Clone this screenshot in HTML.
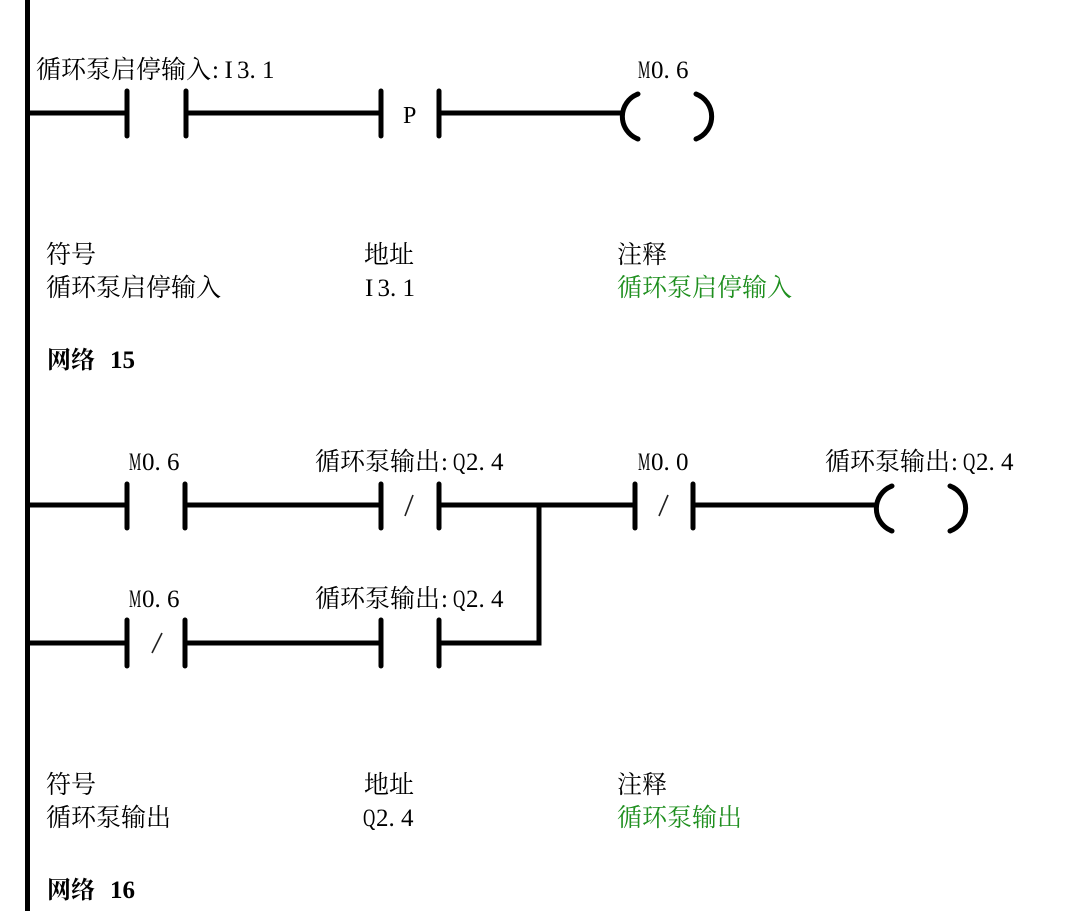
<!DOCTYPE html>
<html>
<head>
<meta charset="utf-8">
<style>
html,body{margin:0;padding:0;background:#fff;}
svg{display:block;}
.cj{font-family:"Noto Serif CJK SC",serif;font-size:25px;fill:#000;}
.la{font-family:"Liberation Serif",serif;font-size:25px;fill:#000;}
.gr{fill:#1f8f1f;}
.nb{font-family:"Noto Serif CJK SC",serif;font-size:24px;font-weight:700;fill:#000;}
.nd{font-family:"Liberation Serif",serif;font-size:25px;font-weight:700;fill:#000;}
</style>
</head>
<body>
<svg width="1080" height="911" viewBox="0 0 1080 911" xmlns="http://www.w3.org/2000/svg">
<!-- left bus -->
<rect x="25" y="0" width="5" height="911" fill="#000"/>

<g stroke="#000" stroke-width="5" fill="none" stroke-linecap="round">
  <!-- Rung 1 (y=113) -->
  <line x1="28" y1="113" x2="127" y2="113" stroke-linecap="butt"/>
  <line x1="127" y1="91" x2="127" y2="136"/>
  <line x1="186" y1="91" x2="186" y2="136"/>
  <line x1="186" y1="113" x2="381" y2="113" stroke-linecap="butt"/>
  <line x1="381" y1="91" x2="381" y2="136"/>
  <line x1="439" y1="91" x2="439" y2="136"/>
  <line x1="439" y1="113" x2="622" y2="113" stroke-linecap="butt"/>
  <path d="M638,94 A24,24 0 0 0 638,139"/>
  <path d="M696,94 A24,24 0 0 1 696,139"/>

  <!-- Network 15 top rung (y=505) -->
  <line x1="28" y1="505" x2="127" y2="505" stroke-linecap="butt"/>
  <line x1="127" y1="484" x2="127" y2="528"/>
  <line x1="185" y1="484" x2="185" y2="528"/>
  <line x1="185" y1="505" x2="381" y2="505" stroke-linecap="butt"/>
  <line x1="381" y1="484" x2="381" y2="528"/>
  <line x1="439" y1="484" x2="439" y2="528"/>
  <line x1="439" y1="505" x2="635" y2="505" stroke-linecap="butt"/>
  <line x1="635" y1="484" x2="635" y2="528"/>
  <line x1="693" y1="484" x2="693" y2="528"/>
  <line x1="693" y1="505" x2="876" y2="505" stroke-linecap="butt"/>
  <path d="M892,486 A24,24 0 0 0 892,531"/>
  <path d="M950,486 A24,24 0 0 1 950,531"/>

  <!-- Network 15 bottom rung (y=643) -->
  <line x1="28" y1="643" x2="127" y2="643" stroke-linecap="butt"/>
  <line x1="127" y1="620" x2="127" y2="666"/>
  <line x1="185" y1="620" x2="185" y2="666"/>
  <line x1="185" y1="643" x2="381" y2="643" stroke-linecap="butt"/>
  <line x1="381" y1="620" x2="381" y2="666"/>
  <line x1="439" y1="620" x2="439" y2="666"/>
  <polyline points="439,643 539,643 539,505" stroke-linecap="butt" stroke-linejoin="miter"/>
</g>

<!-- slashes for NC contacts -->
<g stroke="#222" stroke-width="1.6" fill="none">
  <line x1="413" y1="495" x2="405" y2="516"/>
  <line x1="668" y1="495" x2="659" y2="516"/>
  <line x1="162" y1="633" x2="152" y2="653"/>
</g>

<!-- P label -->
<text x="403" y="123" style="font-family:'Liberation Serif',serif;font-size:24px;fill:#000;">P</text>

<!-- Rung 1 labels -->
<text class="cj" x="36" y="78">循环泵启停输入</text>
<text class="la" y="78"><tspan x="212">:</tspan><tspan x="224.5">I</tspan><tspan x="237">3</tspan><tspan x="249.5">.</tspan><tspan x="262">1</tspan></text>
<text class="la" transform="translate(638,78) scale(0.55,1)">M</text>
<text class="la" y="78"><tspan x="651">0</tspan><tspan x="663.5">.</tspan><tspan x="676">6</tspan></text>

<!-- Table 1 -->
<text class="cj" x="46" y="263">符号</text>
<text class="cj" x="364" y="263">地址</text>
<text class="cj" x="617" y="263">注释</text>
<text class="cj" x="46" y="296">循环泵启停输入</text>
<text class="la" y="296"><tspan x="365">I</tspan><tspan x="377.5">3</tspan><tspan x="390">.</tspan><tspan x="402.5">1</tspan></text>
<text class="cj gr" x="617" y="296">循环泵启停输入</text>

<text class="nb" x="47" y="368">网络</text>
<text class="nd" x="110" y="368">15</text>

<!-- Network 15 labels row 1 -->
<text class="la" transform="translate(129,470) scale(0.55,1)">M</text>
<text class="la" y="470"><tspan x="142">0</tspan><tspan x="154.5">.</tspan><tspan x="167">6</tspan></text>
<text class="cj" x="315" y="470">循环泵输出</text>
<text class="la" y="470"><tspan x="441">:</tspan></text>
<text class="la" transform="translate(453,470) scale(0.68,1)">Q</text>
<text class="la" y="470"><tspan x="466">2</tspan><tspan x="478.5">.</tspan><tspan x="491">4</tspan></text>
<text class="la" transform="translate(638,470) scale(0.55,1)">M</text>
<text class="la" y="470"><tspan x="651">0</tspan><tspan x="663.5">.</tspan><tspan x="676">0</tspan></text>
<text class="cj" x="825" y="470">循环泵输出</text>
<text class="la" y="470"><tspan x="951">:</tspan></text>
<text class="la" transform="translate(963,470) scale(0.68,1)">Q</text>
<text class="la" y="470"><tspan x="976">2</tspan><tspan x="988.5">.</tspan><tspan x="1001">4</tspan></text>

<!-- Network 15 labels row 2 -->
<text class="la" transform="translate(129,607) scale(0.55,1)">M</text>
<text class="la" y="607"><tspan x="142">0</tspan><tspan x="154.5">.</tspan><tspan x="167">6</tspan></text>
<text class="cj" x="315" y="607">循环泵输出</text>
<text class="la" y="607"><tspan x="441">:</tspan></text>
<text class="la" transform="translate(453,607) scale(0.68,1)">Q</text>
<text class="la" y="607"><tspan x="466">2</tspan><tspan x="478.5">.</tspan><tspan x="491">4</tspan></text>

<!-- Table 2 -->
<text class="cj" x="46" y="793">符号</text>
<text class="cj" x="364" y="793">地址</text>
<text class="cj" x="617" y="793">注释</text>
<text class="cj" x="46" y="826">循环泵输出</text>
<text class="la" transform="translate(363,826) scale(0.68,1)">Q</text>
<text class="la" y="826"><tspan x="376">2</tspan><tspan x="388.5">.</tspan><tspan x="401">4</tspan></text>
<text class="cj gr" x="617" y="826">循环泵输出</text>

<text class="nb" x="47" y="898">网络</text>
<text class="nd" x="110" y="898">16</text>
</svg>
</body>
</html>
